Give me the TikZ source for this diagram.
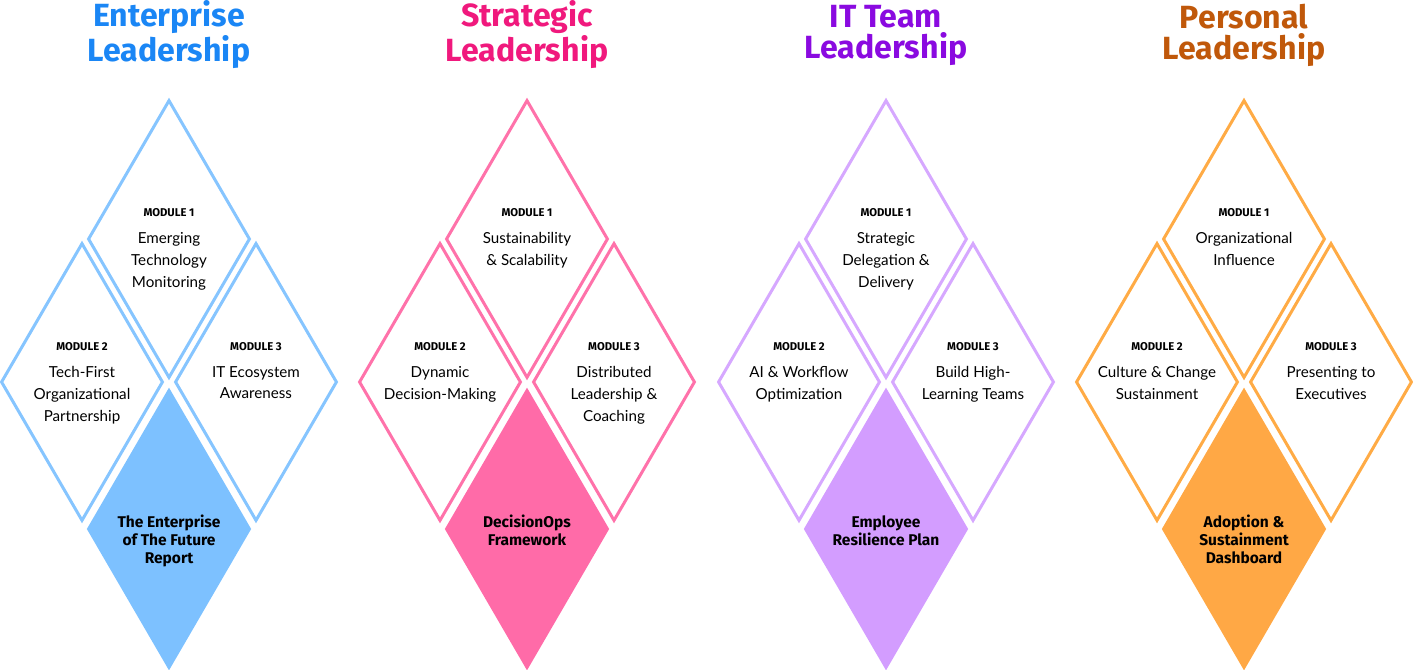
\documentclass[tikz,border=0pt]{standalone}
\usepackage{fontspec}
\setmainfont{Lato}
\newfontfamily\headfont{Fira Sans}
\usetikzlibrary{shapes.geometric}
\definecolor{entT}{HTML}{1A86F5}\definecolor{entL}{HTML}{86C5FF}\definecolor{entF}{HTML}{7DC1FF}
\definecolor{strT}{HTML}{F0197D}\definecolor{strL}{HTML}{FF72AA}\definecolor{strF}{HTML}{FF6BA8}
\definecolor{itT}{HTML}{8A0AE0}\definecolor{itL}{HTML}{D6A8FF}\definecolor{itF}{HTML}{D39DFF}
\definecolor{perT}{HTML}{C0580A}\definecolor{perL}{HTML}{FFAB45}\definecolor{perF}{HTML}{FFA845}
\tikzset{
	block/.style={diamond,draw=#1,line width=1.7pt,inner sep=0pt,
		minimum width=91.9pt,minimum height=157.6pt,aspect=0.58},
	report/.style={block=#1,fill=#1},
	title/.style={font=\headfont\fontsize{18.2}{17.6}\selectfont\bfseries,align=center,text=#1},
	modtext/.style={font=\fontsize{8.6}{12.4}\selectfont,align=center},
	modtag/.style={font=\headfont\fontsize{6.4}{7}\selectfont\bfseries}
}
% one column: x, prefix, colour key, title, module 1, module 2, module 3, deliverable
\newcommand\leadgroup[8]{
	\node[title=#3T] (#2title) at (#1,35) {#4};
	\node[block=#3L] (#2m1) at (#1,239) {};
	\node[block=#3L] (#2m2) at (#1-87,382) {};
	\node[block=#3L] (#2m3) at (#1+87,382) {};
	\node[report=#3F] (#2rep) at (#1,529) {};
	\node[modtag] (#2tag1) at (#1,213) {MODULE 1};
	\node[modtext,anchor=north] (#2txt1) at (#1,226) {#5};
	\node[modtag] (#2tag2) at (#1-87,347) {MODULE 2};
	\node[modtext,anchor=north] (#2txt2) at (#1-87,360) {#6};
	\node[modtag] (#2tag3) at (#1+87,347) {MODULE 3};
	\node[modtext,anchor=north] (#2txt3) at (#1+87,360) {#7};
	\node[font=\headfont\fontsize{8.8}{10.2}\selectfont\bfseries,align=center,anchor=north] (#2reptxt) at (#1,509) {#8};
}
\begin{document}
\begin{tikzpicture}[x=0.567pt,y=-0.567pt]
	\useasboundingbox (0,0) rectangle (1413,670);

	%% Columns
	\leadgroup{169}{ent}{ent}{Enterprise\\Leadership}{Emerging\\Technology\\Monitoring}{Tech-First\\Organizational\\Partnership}{IT Ecosystem\\Awareness}{The Enterprise\\of The Future\\Report}
	\leadgroup{527}{str}{str}{Strategic\\Leadership}{Sustainability\\\& Scalability}{Dynamic\\Decision-Making}{Distributed\\Leadership \&\\Coaching}{DecisionOps\\Framework}
	\leadgroup{886}{it}{it}{IT Team\\Leadership}{Strategic\\Delegation \&\\Delivery}{AI \& Workflow\\Optimization}{Build High-\\Learning Teams}{Employee\\Resilience Plan}
	\leadgroup{1244}{per}{per}{Personal\\Leadership}{Organizational\\Influence}{Culture \& Change\\Sustainment}{Presenting to\\Executives}{Adoption \&\\Sustainment\\Dashboard}
\end{tikzpicture}
\end{document}
